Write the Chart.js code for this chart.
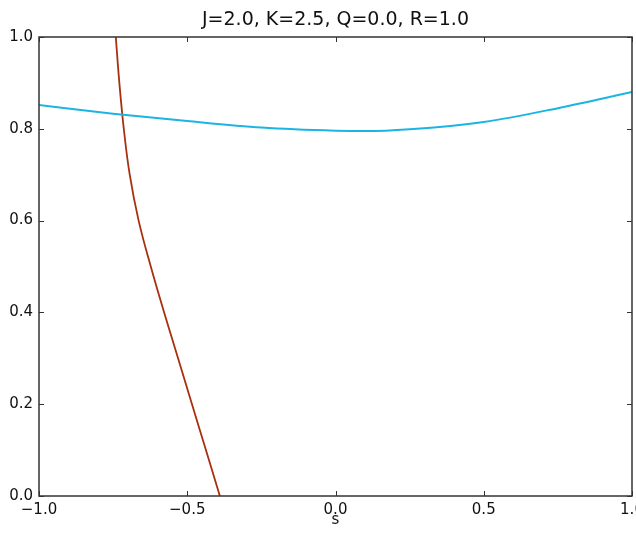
<!DOCTYPE html>
<html>
<head>
<meta charset="utf-8">
<script src="https://cdn.jsdelivr.net/npm/chart.js@4"></script>
<style>
  body { margin: 0; background: #fff; }
  #wrap { width: 636px; height: 538px; }
</style>
</head>
<body>
<div id="wrap"><canvas id="myChart"></canvas></div>
<script>
const titleText = 'J=2.0, K=2.5, Q=0.0, R=1.0';
const xLabel = 's';
const xTicks = [-1, -0.5, 0, 0.5, 1];
const yTicks = [0, 0.2, 0.4, 0.6, 0.8, 1];

// cyan curve
const cyanS = [-1, -0.75, -0.5, -0.25, 0, 0.1, 0.25, 0.5, 0.75, 1];
const cyanY = [0.852, 0.833, 0.817, 0.803, 0.796, 0.795, 0.799, 0.815, 0.845, 0.880];

// brown curve
const brownS = [-0.741, -0.729, -0.714, -0.694, -0.664, -0.623, -0.578, -0.531, -0.484, -0.437, -0.390];
const brownY = [1.0, 0.9, 0.8, 0.7, 0.6, 0.5, 0.4, 0.3, 0.2, 0.1, 0.0];

const toPts = (xs, ys) => xs.map((x, i) => ({x: x, y: ys[i]}));
const fmt = v => Number(v).toFixed(1).replace('-', '\u2212');

// matplotlib-like frame with inward ticks, title centred over the axes
const framePlugin = {
  id: 'frame',
  afterDatasetsDraw(chart) {
    const {ctx, chartArea: a, scales} = chart;
    ctx.save();
    ctx.strokeStyle = '#333';
    ctx.lineWidth = 1.5;
    ctx.strokeRect(a.left, a.top, a.right - a.left, a.bottom - a.top);
    ctx.lineWidth = 1;
    ctx.beginPath();
    xTicks.forEach(v => {
      const px = Math.round(scales.x.getPixelForValue(v)) + 0.5;
      ctx.moveTo(px, a.bottom); ctx.lineTo(px, a.bottom - 5);
      ctx.moveTo(px, a.top); ctx.lineTo(px, a.top + 5);
    });
    yTicks.forEach(v => {
      const py = Math.round(scales.y.getPixelForValue(v)) + 0.5;
      ctx.moveTo(a.left, py); ctx.lineTo(a.left + 5, py);
      ctx.moveTo(a.right, py); ctx.lineTo(a.right - 5, py);
    });
    ctx.stroke();

    ctx.fillStyle = '#111';
    ctx.font = '19px "DejaVu Sans"';
    ctx.textAlign = 'center';
    ctx.textBaseline = 'middle';
    ctx.fillText(titleText, (a.left + a.right) / 2, 20);
    ctx.restore();
  }
};

const ctx = document.getElementById('myChart');

new Chart(ctx, {
  type: 'scatter',
  data: {
    datasets: [
      {
        data: toPts(cyanS, cyanY),
        showLine: true,
        borderColor: '#1cb4e4',
        borderWidth: 2,
        pointRadius: 0,
        cubicInterpolationMode: 'monotone'
      },
      {
        data: toPts(brownS, brownY),
        showLine: true,
        borderColor: '#a8300e',
        borderWidth: 1.8,
        pointRadius: 0,
        tension: 0.4
      }
    ]
  },
  options: {
    responsive: true,
    maintainAspectRatio: false,
    animation: false,
    layout: { padding: { left: 0, right: 4, top: 37, bottom: 0 } },
    plugins: {
      legend: { display: false },
      tooltip: { enabled: false },
      title: { display: false }
    },
    scales: {
      x: {
        type: 'linear',
        min: -1,
        max: 1,
        grid: { display: false, drawTicks: false },
        border: { display: false },
        ticks: {
          stepSize: 0.5,
          padding: 5,
          color: '#111',
          maxRotation: 0,
          font: { family: 'DejaVu Sans', size: 15 },
          callback: v => fmt(v)
        },
        title: {
          display: true,
          text: xLabel,
          color: '#111',
          font: { family: 'DejaVu Sans', size: 15 },
          padding: { top: 0, bottom: 9 }
        },
        afterFit(scale) {
          scale.height = 42;
          scale.paddingRight = 0;
        }
      },
      y: {
        type: 'linear',
        min: 0,
        max: 1,
        grid: { display: false, drawTicks: false },
        border: { display: false },
        ticks: {
          stepSize: 0.2,
          padding: 6,
          color: '#111',
          font: { family: 'DejaVu Sans', size: 15 },
          callback: v => fmt(v)
        },
        afterFit(scale) {
          scale.width = 39;
        }
      }
    }
  },
  plugins: [framePlugin]
});
</script>
</body>
</html>
